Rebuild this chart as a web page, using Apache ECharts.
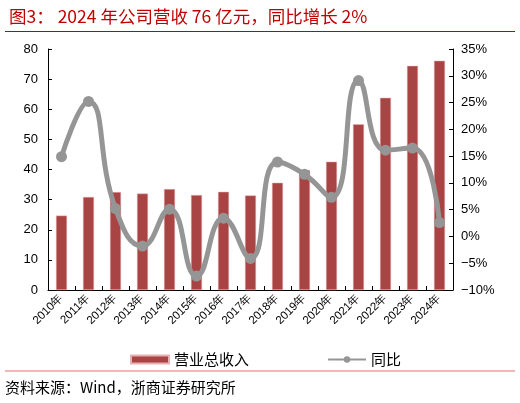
<!DOCTYPE html>
<html><head><meta charset="utf-8">
<script src="https://cdn.jsdelivr.net/npm/echarts@6/dist/echarts.min.js"></script>
<style>html,body{margin:0;padding:0;background:#fff}#c{width:520px;height:403px}</style>
</head><body><div id="c"></div>
<script>
const categories = ['2010年','2011年','2012年','2013年','2014年','2015年','2016年','2017年','2018年','2019年','2020年','2021年','2022年','2023年','2024年'];
const revenue = [24.7,30.9,32.5,32.0,33.5,31.5,32.6,31.4,35.6,39.8,42.6,55.0,63.8,74.4,76.1];
const yoy = [14.9,25.2,5.2,-1.8,5.1,-7.4,3.4,-4.1,13.9,11.6,7.3,29.1,16.1,16.5,2.6];
const leftTicks = [0,80,10];
const rightTicks = [-10,35,5];

const chart = echarts.init(document.getElementById('c'));
const axisFont = {fontFamily:'Liberation Sans, Arial', fontSize:13, color:'#000'};
chart.setOption({
  animation:false,
  title:{text:'图3： 2024 年公司营收 76 亿元，同比增长 2%', left:4, top:3,
    textStyle:{fontFamily:'Noto Sans CJK SC', fontSize:17.5, fontWeight:'normal', color:'#C00000'}},
  graphic:[
    {type:'line', shape:{x1:5,y1:31.5,x2:515,y2:31.5}, style:{stroke:'#C00000', lineWidth:1}},
    {type:'line', shape:{x1:5,y1:371,x2:515,y2:371}, style:{stroke:'#E07070', lineWidth:1}},
    {type:'text', left:5, top:380, style:{text:'资料来源：Wind，浙商证券研究所', fontFamily:'Noto Sans CJK SC', fontSize:15, fill:'#000'}}
  ],
  grid:{left:48, right:67, top:49, bottom:113, containLabel:false},
  legend:{top:347, left:125, itemGap:78, itemWidth:38, itemHeight:8,
    textStyle:{fontFamily:'Noto Sans CJK SC', fontSize:15, color:'#000'},
    data:[{name:'营业总收入', icon:'rect'},{name:'同比'}]},
  xAxis:{type:'category', data:categories,
    axisLine:{lineStyle:{color:'#000', width:1}},
    axisTick:{show:true, inside:true, length:4, alignWithLabel:false, lineStyle:{color:'#000'}},
    axisLabel:{rotate:45, fontFamily:'Liberation Sans, Arial', fontSize:11.5, color:'#000', interval:0, margin:6}},
  yAxis:[
    {type:'value', min:leftTicks[0], max:leftTicks[1], interval:leftTicks[2],
     axisLine:{show:true, lineStyle:{color:'#000'}},
     axisTick:{show:true, inside:true, length:4, lineStyle:{color:'#000'}},
     splitLine:{show:false}, axisLabel:Object.assign({margin:10}, axisFont)},
    {type:'value', min:rightTicks[0], max:rightTicks[1], interval:rightTicks[2],
     axisLine:{show:true, lineStyle:{color:'#000'}},
     axisTick:{show:true, inside:true, length:4, lineStyle:{color:'#000'}},
     splitLine:{show:false},
     axisLabel:Object.assign({margin:8, formatter:v=>(v<0?'−'+(-v):v)+'%'}, axisFont)}
  ],
  series:[
    {name:'营业总收入', type:'bar', data:revenue, barWidth:11, yAxisIndex:0,
     itemStyle:{color:'#A94444', borderColor:'#E8B0B0', borderWidth:0.5}},
    {name:'同比', type:'line', data:yoy, yAxisIndex:1, smooth:0.5,
     symbol:'circle', symbolSize:11, lineStyle:{color:'#959595', width:5},
     itemStyle:{color:'#959595'}}
  ]
});
</script></body></html>
